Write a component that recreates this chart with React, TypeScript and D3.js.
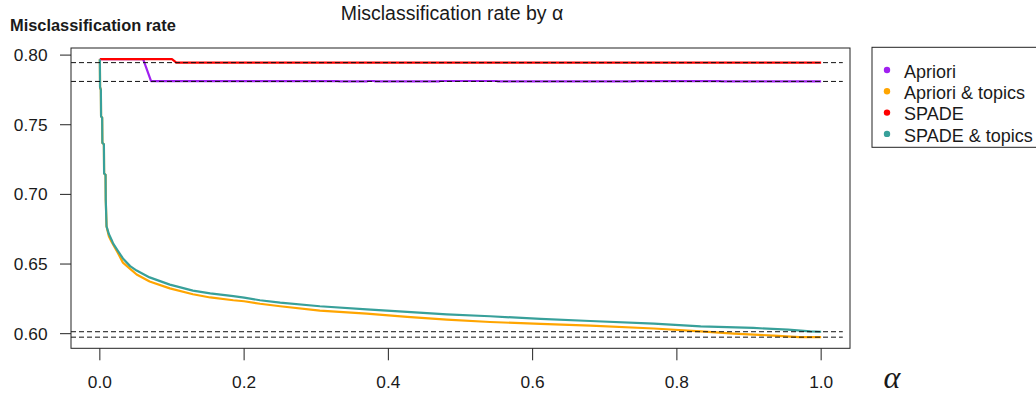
import React from "react";
import * as d3 from "d3";

// Misclassification rate as a function of alpha, one series per method
const seriesNames = ["Apriori", "Apriori & topics", "SPADE", "SPADE & topics"];
const seriesColors = ["#A020F0", "#FFA500", "#FF0000", "#38A09A"];

const aprioriAlpha = [0, 0.06, 0.071, 0.33, 0.332, 0.37, 0.372, 0.38, 0.382, 0.47, 0.472, 0.55, 0.552, 0.74, 0.742, 0.86, 0.862, 1.0];
const aprioriRate = [0.7971, 0.7971, 0.7813, 0.7813, 0.7811, 0.7811, 0.7814, 0.7814, 0.7811, 0.7811, 0.7814, 0.7814, 0.7811, 0.7811, 0.7813, 0.7813, 0.7811, 0.7811];

const aprioriTopicsAlpha = [0, 0.0003, 0.0014, 0.0017, 0.0032, 0.0035, 0.0056, 0.0059, 0.0079, 0.0082, 0.0093, 0.0125, 0.0162, 0.025, 0.032, 0.042, 0.051, 0.069, 0.097, 0.129, 0.153, 0.185, 0.2, 0.222, 0.25, 0.305, 0.37, 0.426, 0.481, 0.541, 0.611, 0.68, 0.768, 0.833, 0.879, 0.934, 0.97, 1.0];
const aprioriTopicsRate = [0.797, 0.777, 0.775, 0.756, 0.755, 0.737, 0.736, 0.715, 0.714, 0.696, 0.677, 0.67, 0.666, 0.658, 0.651, 0.6465, 0.6425, 0.6375, 0.6325, 0.6283, 0.626, 0.624, 0.6233, 0.6215, 0.6197, 0.6166, 0.6144, 0.612, 0.6101, 0.6084, 0.607, 0.6058, 0.6037, 0.6017, 0.6001, 0.5986, 0.5975, 0.5975];

const spadeAlpha = [0, 0.1, 0.106, 1.0];
const spadeRate = [0.7971, 0.7971, 0.7946, 0.7946];

const spadeTopicsAlpha = [0, 0.0003, 0.0014, 0.0017, 0.0032, 0.0035, 0.0056, 0.0059, 0.0079, 0.0082, 0.0093, 0.0125, 0.0162, 0.0185, 0.025, 0.032, 0.042, 0.051, 0.069, 0.097, 0.129, 0.153, 0.185, 0.2, 0.222, 0.25, 0.305, 0.37, 0.426, 0.481, 0.541, 0.611, 0.68, 0.768, 0.833, 0.906, 0.954, 0.985, 1.0];
const spadeTopicsRate = [0.797, 0.777, 0.775, 0.756, 0.755, 0.737, 0.736, 0.715, 0.714, 0.696, 0.677, 0.6715, 0.6675, 0.6647, 0.6595, 0.654, 0.6485, 0.6453, 0.6404, 0.6352, 0.6309, 0.6289, 0.6269, 0.6259, 0.624, 0.6223, 0.6197, 0.6175, 0.6156, 0.6139, 0.6125, 0.6106, 0.6091, 0.6072, 0.6053, 0.6041, 0.6029, 0.6016, 0.6014];

const xTicks = [0, 0.2, 0.4, 0.6, 0.8, 1.0];
const yTicks = [0.6, 0.65, 0.7, 0.75, 0.8];

const W = 1036;
const H = 394;
const box = { left: 71, right: 850, top: 48, bottom: 348.3 };

export default function App() {
  const x = d3.scaleLinear().domain([-0.04, 1.04]).range([box.left, box.right]);
  const y = d3.scaleLinear().domain([0.5895, 0.8051]).range([box.bottom, box.top]);

  const series = [
    { alpha: aprioriAlpha, rate: aprioriRate },
    { alpha: aprioriTopicsAlpha, rate: aprioriTopicsRate },
    { alpha: spadeAlpha, rate: spadeRate },
    { alpha: spadeTopicsAlpha, rate: spadeTopicsRate },
  ].map((s, i) => ({ ...s, name: seriesNames[i], color: seriesColors[i] }));

  const makePath = (s: any) =>
    d3
      .line<number>()
      .x((_, i) => x(s.alpha[i]))
      .y((v) => y(v))(s.rate) as string;

  const font = "Arial, 'Liberation Sans', sans-serif";
  const ink = "#1a1a1a";

  return (
    <svg
      width={W}
      height={H}
      style={{ position: "absolute", left: 0, top: 0, background: "#fff" }}
      fontFamily={font}
    >
      {/* title */}
      <text x={452} y={20} textAnchor="middle" fontSize={19.5} fill={ink}>
        Misclassification rate by α
      </text>
      {/* y axis label */}
      <text x={10} y={30.7} fontSize={16.4} fontWeight="bold" fill={ink}>
        Misclassification rate
      </text>

      {/* series */}
      {series.map((s) => (
        <path key={s.name} d={makePath(s)} fill="none" stroke={s.color} strokeWidth={2.2} strokeLinejoin="round" />
      ))}

      {/* minimum of each series */}
      {series.map((s) => {
        const m = d3.min(s.rate) as number;
        return (
          <line
            key={"min-" + s.name}
            x1={box.left}
            x2={x(1.03)}
            y1={y(m)}
            y2={y(m)}
            stroke="#111"
            strokeWidth={1}
            strokeDasharray="5,3"
          />
        );
      })}

      {/* plot frame */}
      <rect
        x={box.left}
        y={box.top}
        width={box.right - box.left}
        height={box.bottom - box.top}
        fill="none"
        stroke="#222"
        strokeWidth={1}
      />

      {/* y axis */}
      {yTicks.map((t) => (
        <g key={"y" + t}>
          <line x1={box.left - 11} x2={box.left} y1={y(t)} y2={y(t)} stroke="#222" />
          <text x={47.5} y={y(t) + 6} textAnchor="end" fontSize={17.3} fill={ink}>
            {d3.format(".2f")(t)}
          </text>
        </g>
      ))}

      {/* x axis */}
      {xTicks.map((t) => (
        <g key={"x" + t}>
          <line x1={x(t)} x2={x(t)} y1={box.bottom} y2={box.bottom + 12} stroke="#222" />
          <text x={x(t)} y={388} textAnchor="middle" fontSize={17.3} fill={ink}>
            {d3.format(".1f")(t)}
          </text>
        </g>
      ))}
      <text x={892} y={388} textAnchor="middle" fontSize={32} fontFamily="'Liberation Serif', serif" fontStyle="italic" fill={ink}>
        α
      </text>

      {/* legend */}
      <rect x={872} y={47.3} width={170} height={100} fill="#fff" stroke="#222" strokeWidth={1} />
      {series.map((s, i) => (
        <g key={"lg" + s.name}>
          <circle cx={887} cy={70 + i * 21.3} r={3.2} fill={s.color} />
          <text x={904} y={77.7 + i * 21.3} fontSize={18} fill={ink}>
            {s.name}
          </text>
        </g>
      ))}
    </svg>
  );
}
